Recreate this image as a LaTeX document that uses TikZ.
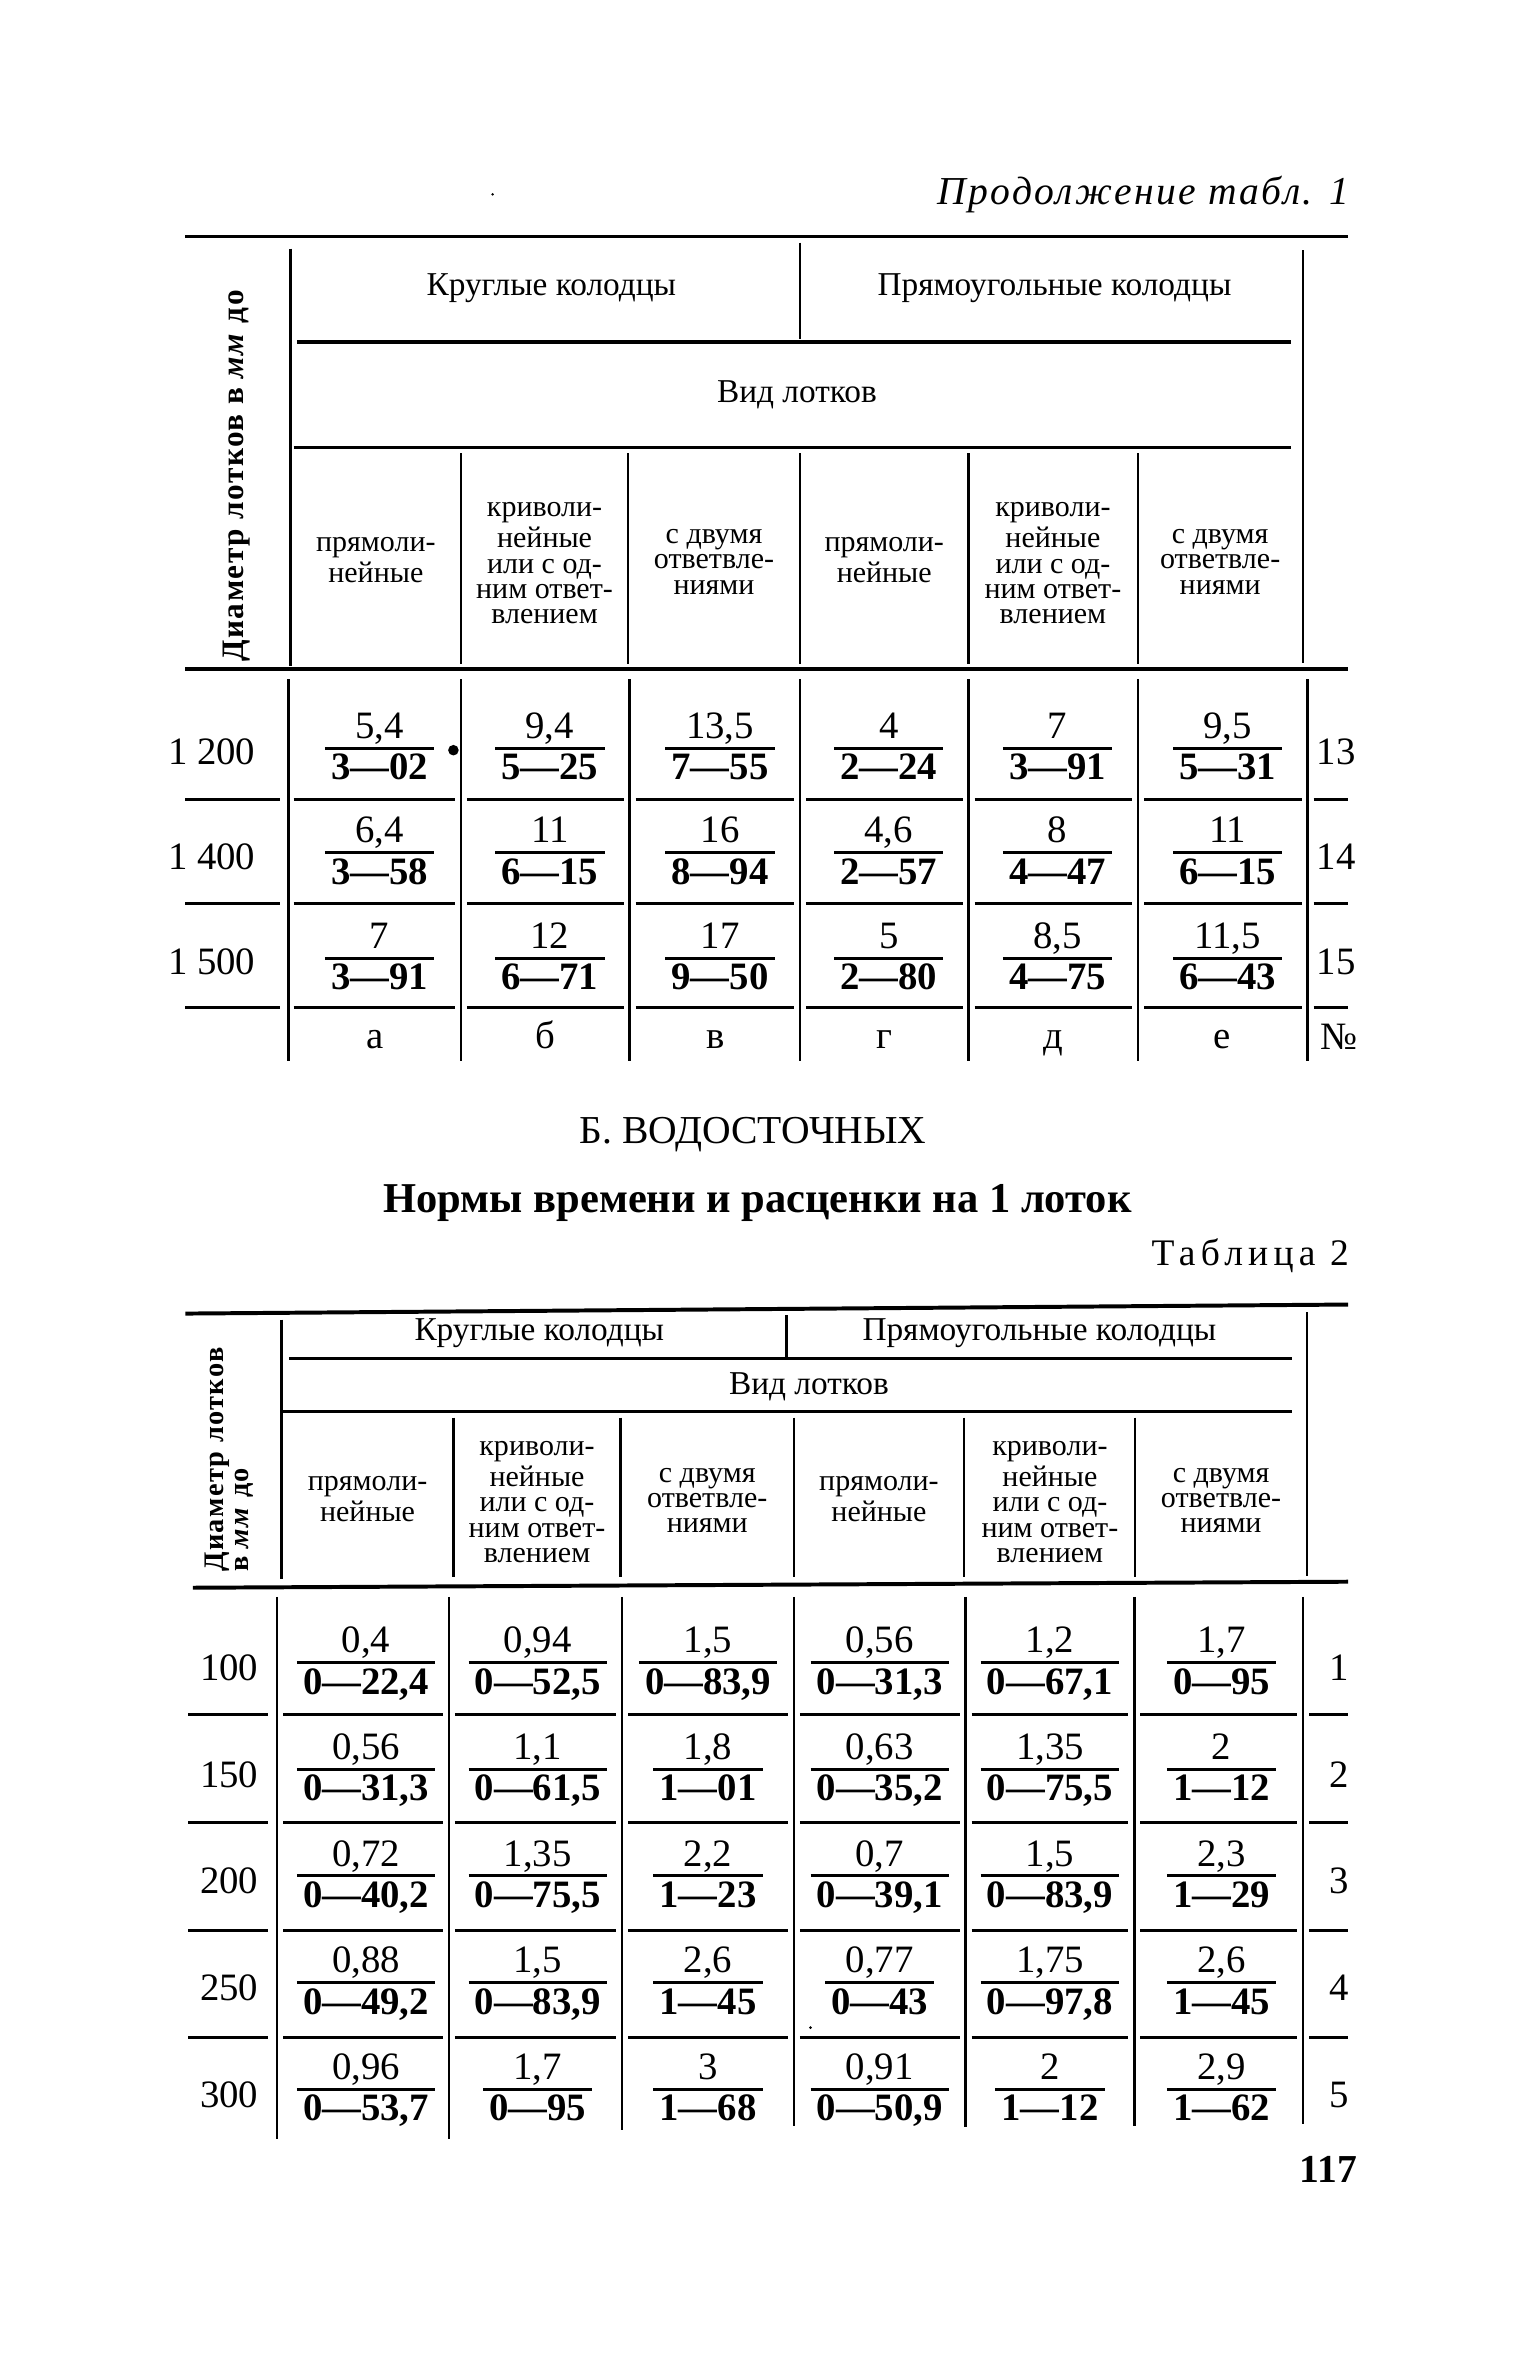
\documentclass[tikz,border=0pt]{standalone}
\usepackage{fontspec}
\setmainfont{Liberation Serif}
\newcommand\fcell[5]{%
  \node[numt] (#1n) at (#2,#3-6.5) {#4};
  \node[dent] (#1d) at (#2,#3+21) {#5};
  \coordinate (#1b) at (#2,#3);
  \draw[fbar] (#1d.west |- #1b) -- (#1d.east |- #1b);
}
\begin{document}
\begin{tikzpicture}[x=0.3615pt,y=-0.3615pt,
  numt/.style={anchor=base, font=\fontsize{9.3}{10}\selectfont, inner sep=0pt},
  dent/.style={anchor=base, font=\fontsize{9.3}{10}\selectfont\bfseries, inner xsep=1.3pt, inner ysep=0pt},
  fbar/.style={line width=0.75pt},
  rule/.style={line width=0.95pt},
  hline/.style={line width=0.75pt},
  vline/.style={line width=0.6pt},
  hdr/.style={font=\fontsize{8}{9}\selectfont, inner sep=0pt},
  sub/.style={font=\fontsize{7.2}{6.1}\selectfont, align=center, inner sep=0pt},
  lab/.style={font=\fontsize{9.3}{10}\selectfont, inner sep=0pt},
]
\useasboundingbox (0,0) rectangle (1019,1568);
\fill[white] (0,0) rectangle (1019,1568);

% ---------- title ----------
\node[anchor=base east, inner sep=0pt, font=\fontsize{9.5}{11}\selectfont\itshape\addfontfeature{LetterSpace=6}] (title) at (896,136) {Продолжение табл. 1};
\fill (327,129) circle (0.9);

% ---------- table 1 : rules ----------
\draw[rule] (123,157) -- (895,157);
\draw[vline] (193,165) -- (193,442);
\draw[vline] (531,161) -- (531,225);
\draw[vline] (865,166) -- (865,440);
\draw[hline] (197,227) -- (857,227);
\draw[hline] (195,297) -- (857,297);
\foreach \x in {306,417,531,643,755.5} \draw[vline] (\x,301) -- (\x,441);
\draw[rule] (123,444) -- (895,444);
\foreach \x in {191.5,306,418,531,643,755.5,868} \draw[vline] (\x,451) -- (\x,704);
\foreach \y in {531,600,669} {
  \draw[hline] (123,\y) -- (186,\y);
  \foreach \a/\b in {195/302,310/414,422/527,535/639,647/751.5,759.5/864} \draw[hline] (\a,\y) -- (\b,\y);
  \draw[hline] (872,\y) -- (895,\y);
}

% ---------- table 1 : header text ----------
\node[rotate=90, inner sep=0pt, font=\fontsize{7.5}{9}\selectfont\bfseries\addfontfeature{LetterSpace=5}] (d1) at (157,316) {Диаметр лотков в \textit{мм} до};
\node[hdr] (k1) at (366,191) {Круглые колодцы};
\node[hdr] (p1) at (700,191) {Прямоугольные колодцы};
\node[hdr] (v1) at (529,262) {Вид лотков};
\node[sub] (s11) at (249.5,372) {прямоли-\\нейные};
\node[sub] (s12) at (361.5,374) {криволи-\\нейные\\или с од-\\ним ответ-\\влением};
\node[sub] (s13) at (474,373) {с двумя\\ответвле-\\ниями};
\node[sub] (s14) at (587,372) {прямоли-\\нейные};
\node[sub] (s15) at (699,374) {криволи-\\нейные\\или с од-\\ним ответ-\\влением};
\node[sub] (s16) at (810,373) {с двумя\\ответвле-\\ниями};

% ---------- table 1 : data ----------
\node[lab, anchor=base east] (l11) at (170,507.6) {1 200};
\node[lab, anchor=base east] (l12) at (170,577) {1 400};
\node[lab, anchor=base east] (l13) at (170,647) {1 500};
\node[lab, anchor=base] (r11) at (887,507.6) {13};
\node[lab, anchor=base] (r12) at (887,577) {14};
\node[lab, anchor=base] (r13) at (887,647) {15};

\fcell{a1}{252}{496.6}{5,4}{3—02}
\fcell{a2}{365}{496.6}{9,4}{5—25}
\fcell{a3}{478}{496.6}{13,5}{7—55}
\fcell{a4}{590}{496.6}{4}{2—24}
\fcell{a5}{702}{496.6}{7}{3—91}
\fcell{a6}{815}{496.6}{9,5}{5—31}

\fcell{b1}{252}{566}{6,4}{3—58}
\fcell{b2}{365}{566}{11}{6—15}
\fcell{b3}{478}{566}{16}{8—94}
\fcell{b4}{590}{566}{4,6}{2—57}
\fcell{b5}{702}{566}{8}{4—47}
\fcell{b6}{815}{566}{11}{6—15}

\fcell{c1}{252}{636}{7}{3—91}
\fcell{c2}{365}{636}{12}{6—71}
\fcell{c3}{478}{636}{17}{9—50}
\fcell{c4}{590}{636}{5}{2—80}
\fcell{c5}{702}{636}{8,5}{4—75}
\fcell{c6}{815}{636}{11,5}{6—43}

\fill (301,498) circle (3.5);

\node[lab, anchor=base] (e1) at (249,696) {а};
\node[lab, anchor=base] (e2) at (362,696) {б};
\node[lab, anchor=base] (e3) at (475,696) {в};
\node[lab, anchor=base] (e4) at (587,696) {г};
\node[lab, anchor=base] (e5) at (699,696) {д};
\node[lab, anchor=base] (e6) at (811,696) {е};
\node[lab, anchor=base] (e7) at (889,697) {№};

% ---------- headings ----------
\node[anchor=base, inner sep=0pt, font=\fontsize{9.5}{11}\selectfont] (h1) at (500,759) {Б. ВОДОСТОЧНЫХ};
\node[anchor=base, inner sep=0pt, font=\fontsize{10.2}{12}\selectfont\bfseries] (h2) at (503,805) {Нормы времени и расценки на 1 лоток};
\node[anchor=base east, inner sep=0pt, font=\fontsize{9}{11}\selectfont\addfontfeature{LetterSpace=14}] (h3) at (896,840) {Таблица 2};

% ---------- table 2 : rules ----------
\draw[rule] (123,872) -- (895,866);
\draw[vline] (187,876) -- (187,1048);
\draw[vline] (522,873) -- (522,901);
\draw[vline] (867.6,871) -- (867.6,1046);
\draw[hline] (192,902) -- (858,902);
\draw[hline] (188,937) -- (858,937);
\foreach \x in {301,412,527,640,753.6} \draw[vline] (\x,941) -- (\x,1047);
\draw[rule] (128,1054) -- (895,1050);
\foreach \x/\e in {184/1420,298/1420,413/1414,527/1411,641/1412,753/1411,865/1410} \draw[vline] (\x,1060) -- (\x,\e);
\foreach \y in {1138.4,1210,1281.6,1352.7} {
  \draw[hline] (125,\y) -- (178,\y);
  \foreach \a/\b in {188/294,302/409,417/523,531/637,645/749,757/861} \draw[hline] (\a,\y) -- (\b,\y);
  \draw[hline] (869,\y) -- (895,\y);
}

% ---------- table 2 : header text ----------
\node[rotate=90, anchor=west, align=left, inner sep=0pt, font=\fontsize{6.8}{6}\selectfont\bfseries\addfontfeature{LetterSpace=5}] (d2) at (152,1044) {Диаметр лотков\\в \textit{мм} до};
\node[hdr] (k2) at (358,885) {Круглые колодцы};
\node[hdr] (p2) at (690,885) {Прямоугольные колодцы};
\node[hdr] (v2) at (537,920.5) {Вид лотков};
\node[sub] (s21) at (244,995) {прямоли-\\нейные};
\node[sub] (s22) at (356.5,997) {криволи-\\нейные\\или с од-\\ним ответ-\\влением};
\node[sub] (s23) at (469.5,996) {с двумя\\ответвле-\\ниями};
\node[sub] (s24) at (583.5,995) {прямоли-\\нейные};
\node[sub] (s25) at (697,997) {криволи-\\нейные\\или с од-\\ним ответ-\\влением};
\node[sub] (s26) at (810.6,996) {с двумя\\ответвле-\\ниями};

% ---------- table 2 : data ----------
\node[lab, anchor=base east] (m1) at (172,1115.6) {100};
\node[lab, anchor=base east] (m2) at (172,1186.5) {150};
\node[lab, anchor=base east] (m3) at (172,1257.3) {200};
\node[lab, anchor=base east] (m4) at (172,1328) {250};
\node[lab, anchor=base east] (m5) at (172,1398.8) {300};
\node[lab, anchor=base] (n1) at (889,1115.6) {1};
\node[lab, anchor=base] (n2) at (889,1186.5) {2};
\node[lab, anchor=base] (n3) at (889,1257.3) {3};
\node[lab, anchor=base] (n4) at (889,1328) {4};
\node[lab, anchor=base] (n5) at (889,1398.8) {5};

\fcell{f1}{243}{1103.6}{0,4}{0—22,4}
\fcell{f2}{357}{1103.6}{0,94}{0—52,5}
\fcell{f3}{470}{1103.6}{1,5}{0—83,9}
\fcell{f4}{584}{1103.6}{0,56}{0—31,3}
\fcell{f5}{697}{1103.6}{1,2}{0—67,1}
\fcell{f6}{811}{1103.6}{1,7}{0—95}

\fcell{g1}{243}{1174.5}{0,56}{0—31,3}
\fcell{g2}{357}{1174.5}{1,1}{0—61,5}
\fcell{g3}{470}{1174.5}{1,8}{1—01}
\fcell{g4}{584}{1174.5}{0,63}{0—35,2}
\fcell{g5}{697}{1174.5}{1,35}{0—75,5}
\fcell{g6}{811}{1174.5}{2}{1—12}

\fcell{h1}{243}{1245.3}{0,72}{0—40,2}
\fcell{h2}{357}{1245.3}{1,35}{0—75,5}
\fcell{h3}{470}{1245.3}{2,2}{1—23}
\fcell{h4}{584}{1245.3}{0,7}{0—39,1}
\fcell{h5}{697}{1245.3}{1,5}{0—83,9}
\fcell{h6}{811}{1245.3}{2,3}{1—29}

\fcell{i1}{243}{1316}{0,88}{0—49,2}
\fcell{i2}{357}{1316}{1,5}{0—83,9}
\fcell{i3}{470}{1316}{2,6}{1—45}
\fcell{i4}{584}{1316}{0,77}{0—43}
\fcell{i5}{697}{1316}{1,75}{0—97,8}
\fcell{i6}{811}{1316}{2,6}{1—45}

\fcell{j1}{243}{1386.8}{0,96}{0—53,7}
\fcell{j2}{357}{1386.8}{1,7}{0—95}
\fcell{j3}{470}{1386.8}{3}{1—68}
\fcell{j4}{584}{1386.8}{0,91}{0—50,9}
\fcell{j5}{697}{1386.8}{2}{1—12}
\fcell{j6}{811}{1386.8}{2,9}{1—62}

\fill (538,1346) circle (1);

% ---------- page number ----------
\node[anchor=base east, inner sep=0pt, font=\fontsize{9.5}{11}\selectfont\bfseries] (pg) at (901.5,1449) {117};
\end{tikzpicture}
\end{document}
